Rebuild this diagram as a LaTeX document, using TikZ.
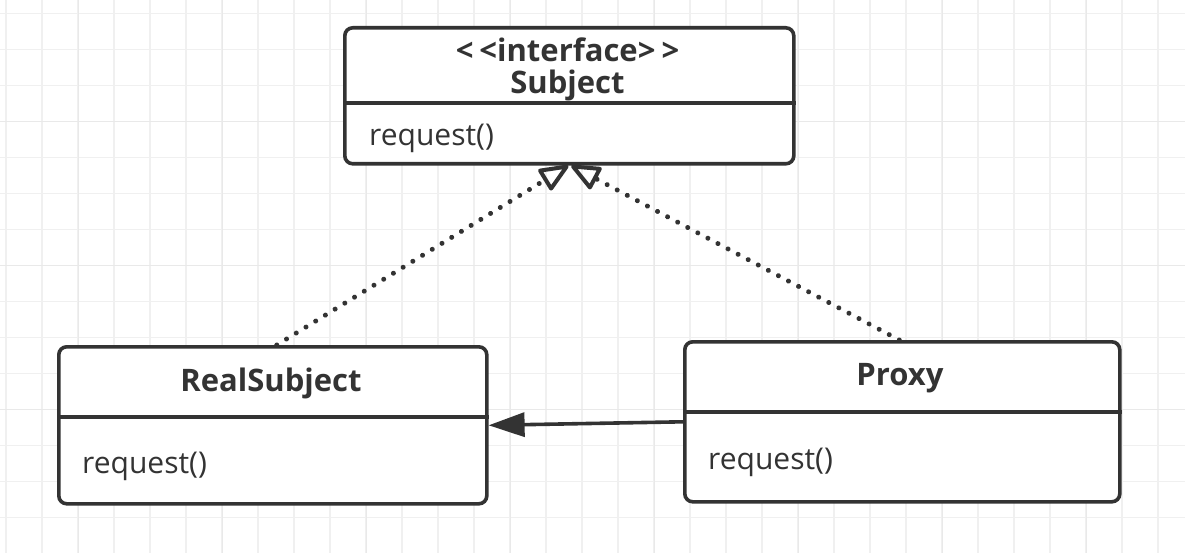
\documentclass[tikz,border=0pt]{standalone}
\usepackage{fontspec}
\setmainfont{Open Sans}
\usetikzlibrary{arrows.meta}
\definecolor{ink}{HTML}{333333}
\definecolor{gridminor}{HTML}{F0F0F0}
\definecolor{gridmajor}{HTML}{E9E9E9}
\tikzset{
  umlbox/.style={draw=ink, line width=3.6pt, rounded corners=8pt, fill=white,
    inner sep=0pt, anchor=north west},
  divider/.style={draw=ink, line width=3.2pt},
  titletext/.style={text=ink, font=\fontsize{31}{35}\selectfont\bfseries, inner sep=0pt},
  optext/.style={text=ink, font=\fontsize{30}{34}\selectfont, inner sep=0pt, anchor=west},
  realize/.style={draw=ink, line width=5pt, line cap=round,
    dash pattern=on 0.01pt off 11.4pt,
    -{Triangle[open, length=32pt, width=26pt, line width=4pt, round]}},
  assoc/.style={draw=ink, line width=3.6pt,
    -{Triangle[length=36pt, width=24pt]}},
}
\begin{document}
\begin{tikzpicture}[x=1pt, y=-1pt]
\useasboundingbox (0,0) rectangle (1185,553);
\fill[white] (0,0) rectangle (1185,553);

% background grid
\foreach \k in {0,...,33} {
  \draw[gridminor, line width=1.2pt] ({6+36*\k},0) -- ({6+36*\k},553);
}
\foreach \k in {0,...,15} {
  \draw[gridminor, line width=1.2pt] (0,{13.3+36*\k}) -- (1185,{13.3+36*\k});
}
\foreach \k in {0,...,8} {
  \draw[gridmajor, line width=1.5pt] ({78.7+144*\k},0) -- ({78.7+144*\k},553);
}
\foreach \k in {0,...,3} {
  \draw[gridmajor, line width=1.5pt] (0,{121.3+144*\k}) -- (1185,{121.3+144*\k});
}

% interface Subject
\node[umlbox, minimum width=449pt, minimum height=136pt] (subj) at (343,26) {};
\coordinate (subjdiv) at (0,103);
\draw[divider] (subj.west |- subjdiv) -- (subj.east |- subjdiv);
\node[titletext] (subjstereo) at (567.5,50) {<\kern6pt<interface>\kern6pt>};
\node[titletext] (subjname) at (567.5,85) {Subject};
\node[optext] (subjop) at (369,138) {request()};

% RealSubject
\node[umlbox, minimum width=428pt, minimum height=157pt] (rs) at (57,345) {};
\coordinate (rsdiv) at (0,417);
\draw[divider] (rs.west |- rsdiv) -- (rs.east |- rsdiv);
\node[titletext] (rsname) at (271,383) {RealSubject};
\node[optext] (rsop) at (82,466) {request()};

% Proxy
\node[umlbox, minimum width=435pt, minimum height=160pt] (px) at (683,340) {};
\coordinate (pxdiv) at (0,412);
\draw[divider] (px.west |- pxdiv) -- (px.east |- pxdiv);
\node[titletext] (pxname) at (900,378) {Proxy};
\node[optext] (pxop) at (708,462) {request()};

% relations
\draw[realize] ([xshift=4pt]rs.north) -- ([xshift=-1pt]subj.south);
\draw[realize] ([xshift=-3pt]px.north) -- ([xshift=2pt]subj.south);
\draw[assoc] (px.west) -- (rs.east);
\end{tikzpicture}
\end{document}
